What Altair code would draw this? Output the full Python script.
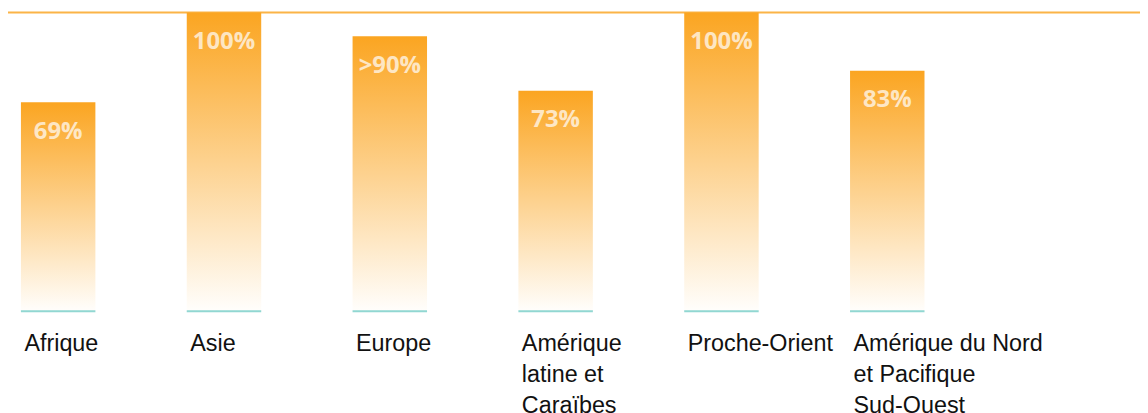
import altair as alt
import pandas as pd

regions = ["Afrique", "Asie", "Europe", "Amérique\nlatine et\nCaraïbes",
           "Proche-Orient", "Amérique du Nord\net Pacifique\nSud-Ouest"]
heights = [69.9, 100, 92, 73.8, 100, 80.5]
labels = ["69%", "100%", ">90%", "73%", "100%", "83%"]

df = pd.DataFrame({"region": regions, "h": heights, "lab": labels, "zero": [0] * 6})

x = alt.X("region:N", sort=regions, axis=None,
          scale=alt.Scale(range=[0, 936], paddingInner=0.551, paddingOuter=0.078))
yscale = alt.Scale(domain=[0, 100], range=[304, 3])

grad = alt.LinearGradient(
    gradient="linear",
    stops=[alt.GradientStop(color="#fba521", offset=0),
           alt.GradientStop(color="#fffefc", offset=1)],
    x1=0, x2=0, y1=0, y2=1,
)

base = alt.Chart(df)

top_rule = base.mark_rule(color="#fbb447", strokeWidth=2).encode(
    y=alt.Y("max(h):Q", scale=yscale, axis=None)
)

bars = base.mark_bar(color=grad).encode(
    x=x,
    y=alt.Y("h:Q", scale=yscale, axis=None),
    y2=alt.Y2("zero:Q"),
)

ticks = base.mark_tick(orient="horizontal", size=75, thickness=2, color="#62c6bf").encode(
    x=x,
    y=alt.Y("zero:Q", scale=yscale, axis=None),
)

vals = base.mark_text(font="Open Sans", fontWeight="bold", fontSize=24,
                      color="white", opacity=0.7, baseline="alphabetic",
                      align="center", dy=37).encode(
    x=x,
    y=alt.Y("h:Q", scale=yscale, axis=None),
    text="lab:N",
)

cats = base.mark_text(font="Liberation Sans", fontSize=23.5, color="#111111",
                      align="left", baseline="top", dx=-34, dy=21,
                      lineBreak="\n", lineHeight=31).encode(
    x=x,
    y=alt.Y("zero:Q", scale=yscale, axis=None),
    text="region:N",
)

chart = alt.layer(top_rule, bars, ticks, vals, cats).properties(
    width=1140, height=405, padding=0,
    autosize=alt.AutoSizeParams(type="none"),
).configure_view(stroke=None)

chart.save("out.html", embed_options={"renderer": "svg", "actions": False})
